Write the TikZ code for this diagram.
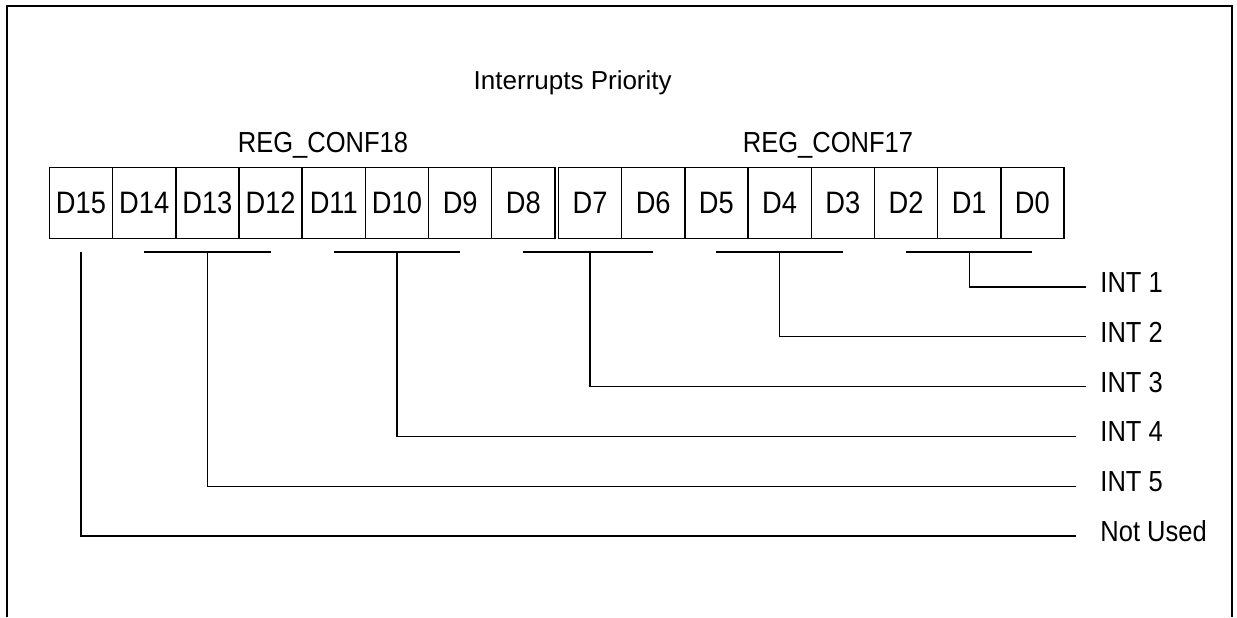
\documentclass[tikz,border=0pt]{standalone}
\usepackage{fontspec}
\setmainfont{Liberation Sans}
\newfontfamily\narrowfont{Liberation Sans}[FakeStretch=0.88]
\usetikzlibrary{matrix}
\usetikzlibrary{positioning}
\newcommand{\cellFont}{\narrowfont\fontsize{15.5}{15.5}\selectfont}
\newcommand{\bracketDrop}{6.5pt}
\tikzset{
  bitcell/.style={draw, line width=0.7pt, minimum width=31.6pt, minimum height=35.5pt, inner sep=0pt,
    text height=11pt, text depth=0pt, anchor=center, font=\cellFont},
  regtitle/.style={font=\narrowfont\fontsize{14.5}{14.5}\selectfont, inner sep=0pt},
  intlabel/.style={font=\narrowfont\fontsize{14.5}{14.5}\selectfont, inner sep=0pt, anchor=west, yshift=2.25pt},
  wire/.style={line width=0.65pt},
  bracket/.style={line width=0.8pt},
  frame/.style={line width=1.1pt}
}

\begin{document}
\begin{tikzpicture}[x=0.5pt,y=-0.5pt]
\useasboundingbox (0,0) rectangle (1237,617);
\draw[frame] (7,617) -- (7,5.8) -- (1231.7,5.8) -- (1231.7,617);
\node[font=\fontsize{13}{13}\selectfont, inner sep=0pt] (title) at (572.7,82.4) {Interrupts Priority};
\matrix[matrix of nodes, nodes={bitcell}, column sep=-0.7pt, inner sep=0pt, anchor=west] (hi) at (48.3,202.8) {
D15 & D14 & D13 & D12 & D11 & D10 & D9 & D8 \\};
\matrix[matrix of nodes, nodes={bitcell}, column sep=-0.7pt, inner sep=0pt, anchor=west] (lo) at (557.3,202.8) {
D7 & D6 & D5 & D4 & D3 & D2 & D1 & D0 \\};
\node[regtitle] (conf18) at (323,145) {REG\_CONF18};
\node[regtitle] (conf17) at (828,145) {REG\_CONF17};
\foreach \name/\txt/\ly/\ex/\gp in {int1/INT 1/287/1086/7pt, int2/INT 2/336.8/1086/7pt, int3/INT 3/386.6/1086/7pt,
  int4/INT 4/436.4/1076/12pt, int5/INT 5/486.2/1076/12pt, unused/Not Used/536/1076/12pt} {
  \coordinate (\name-end) at (\ex,\ly);
  \node[intlabel, right=\gp of \name-end] (\name) {\txt};
}
\foreach \l/\m/\r/\int in {lo-1-6/lo-1-7/lo-1-8/int1, lo-1-3/lo-1-4/lo-1-5/int2, hi-1-8/lo-1-1/lo-1-2/int3,
  hi-1-5/hi-1-6/hi-1-7/int4, hi-1-2/hi-1-3/hi-1-4/int5} {
  \draw[bracket] ([yshift=-\bracketDrop]\l.south) -- ([yshift=-\bracketDrop]\r.south);
  \draw[wire] ([yshift=-\bracketDrop]\m.south) |- (\int-end);
}
\draw[wire] ([yshift=-\bracketDrop]hi-1-1.south) |- (unused-end);
\end{tikzpicture}
\end{document}
